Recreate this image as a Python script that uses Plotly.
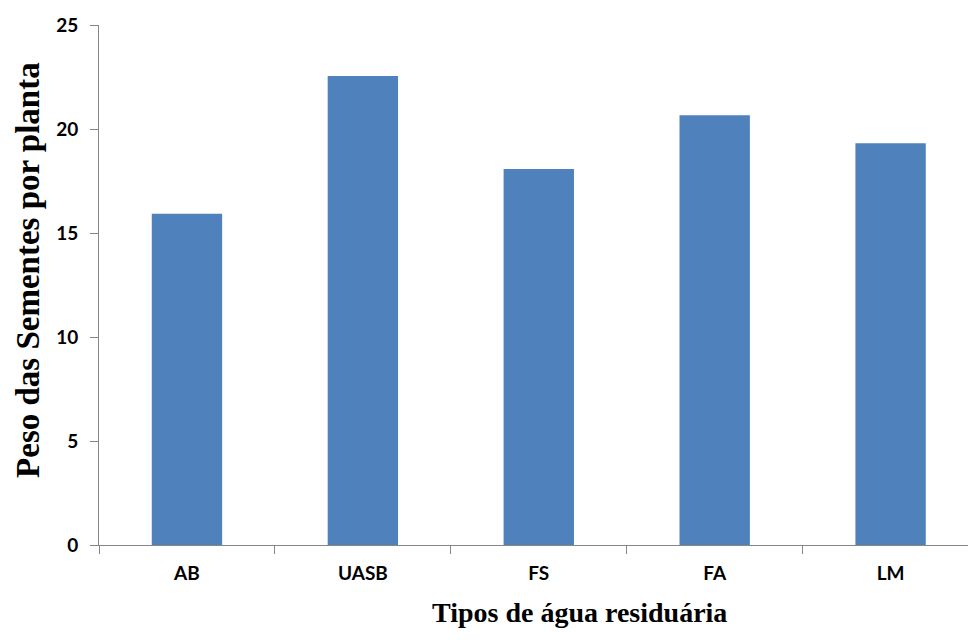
import plotly.graph_objects as go

# Seed weight per plant for each wastewater type
categorias = ["AB", "UASB", "FS", "FA", "LM"]
peso_sementes = [15.93, 22.55, 18.08, 20.66, 19.31]

y_ticks = [0, 5, 10, 15, 20, 25]

axis_color = "#868686"
tick_font = dict(family="Lato", size=19, color="#000000", weight="bold")
x_title_font = dict(family="Liberation Serif", size=28, color="#000000", weight="bold")
y_title_font = dict(family="Liberation Serif", size=33, color="#000000", weight="bold")

fig = go.Figure(
    go.Bar(
        x=categorias,
        y=peso_sementes,
        width=0.4,
        marker=dict(color="#4F81BD", line=dict(width=0)),
        hoverinfo="x+y",
    )
)

fig.update_layout(
    width=968,
    height=640,
    margin=dict(l=99, r=0, t=25, b=95),
    paper_bgcolor="white",
    plot_bgcolor="white",
    showlegend=False,
    xaxis=dict(
        range=[-0.5, 4.44],
        showline=True,
        linecolor=axis_color,
        linewidth=1,
        ticks="outside",
        tickson="boundaries",
        ticklen=8,
        tickcolor=axis_color,
        tickfont=tick_font,
        ticklabelstandoff=11,
        showgrid=False,
        zeroline=False,
    ),
    yaxis=dict(
        range=[0, 25],
        tickvals=y_ticks,
        showline=True,
        linecolor=axis_color,
        linewidth=1,
        ticks="outside",
        ticklen=8,
        tickcolor=axis_color,
        tickfont=tick_font,
        ticklabelstandoff=8,
        showgrid=False,
        zeroline=False,
    ),
    annotations=[
        dict(
            text="Tipos de água residuária",
            xref="paper", yref="paper",
            x=0.5535, y=-0.129,
            xanchor="center", yanchor="middle",
            showarrow=False,
            font=x_title_font,
        ),
        dict(
            text="Peso das Sementes por planta",
            xref="paper", yref="paper",
            x=-0.0817, y=0.529,
            xanchor="center", yanchor="middle",
            textangle=-90,
            showarrow=False,
            font=y_title_font,
        ),
    ],
)

fig.write_html("out.html")
